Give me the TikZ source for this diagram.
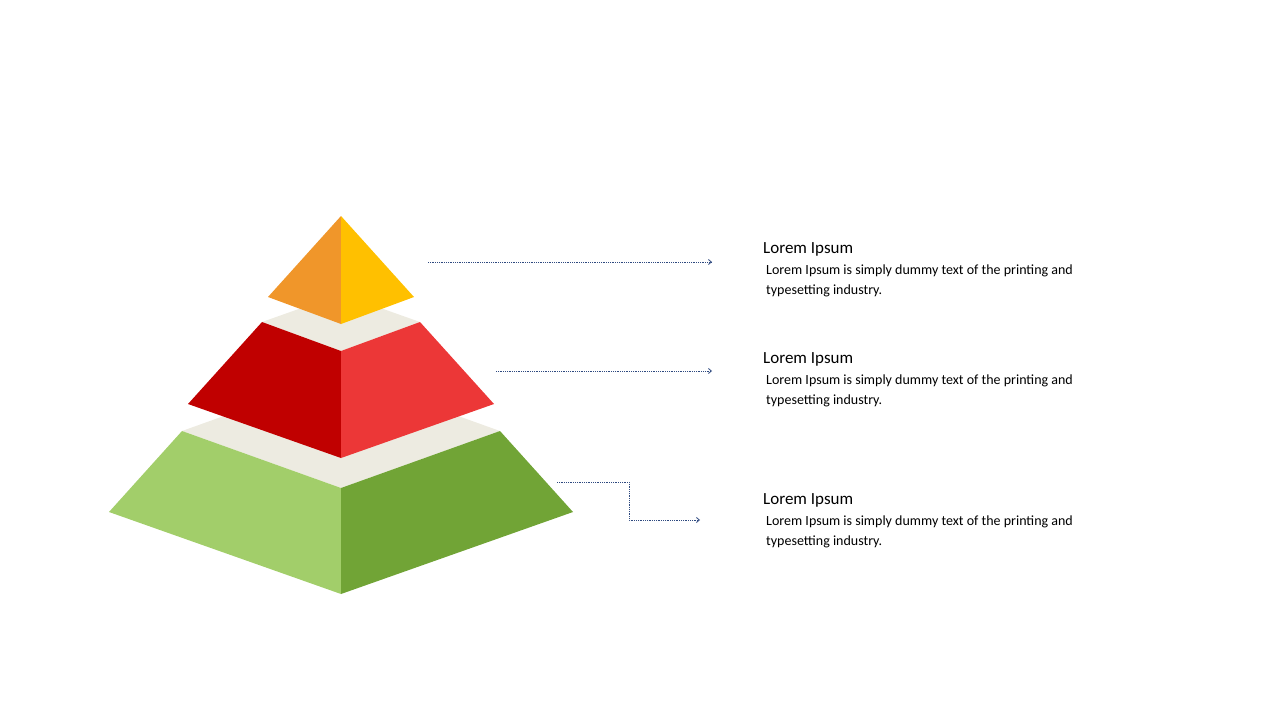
\documentclass[tikz,border=0pt]{standalone}
\usepackage{fontspec}
\setmainfont{Carlito}
\usetikzlibrary{positioning}
\definecolor{greenL}{HTML}{A2CE6A}
\definecolor{greenD}{HTML}{71A436}
\definecolor{redD}{HTML}{C00000}
\definecolor{redL}{HTML}{EC3737}
\definecolor{orangeT}{HTML}{F0962A}
\definecolor{yellowT}{HTML}{FFC000}
\definecolor{band}{HTML}{EDEBE1}
\definecolor{link}{HTML}{2F4A80}
\tikzset{
  head/.style={anchor=base west,inner sep=0pt,font=\fontsize{17}{20}\selectfont},
  body/.style={anchor=north west,inner sep=0pt,align=left,font=\fontsize{14}{19.5}\selectfont},
  link/.style={draw=link,densely dotted,line width=0.8pt,-{Straight Barb[length=3pt,width=5pt]}}
}
\usetikzlibrary{arrows.meta}
\begin{document}
\begin{tikzpicture}[x=1pt,y=-1pt]
    \useasboundingbox (0,0) rectangle (1280,720);
    % bottom layer
    \fill[band] (182,431) -- (341,374) -- (500,431) -- (341,488) -- cycle;
    \fill[greenL] (109,512) -- (182,431) -- (341,488) -- (341,594) -- cycle;
    \fill[greenD] (341,488) -- (500,431) -- (573,512) -- (341,594) -- cycle;
    % middle layer
    \fill[band] (262,322) -- (341,294) -- (420,322) -- (341,351) -- cycle;
    \fill[redD] (188,404) -- (262,322) -- (341,351) -- (341,458) -- cycle;
    \fill[redL] (341,351) -- (420,322) -- (494,404) -- (341,458) -- cycle;
    % top
    \fill[orangeT] (341,216) -- (268,297) -- (341,324) -- cycle;
    \fill[yellowT] (341,216) -- (414,297) -- (341,324) -- cycle;
    % texts
    \node[head] (h1) at (763,253) {Lorem Ipsum};
    \node[body] (b1) at (766,265) {Lorem Ipsum is simply dummy text of the printing and\\typesetting industry.};
    \node[head] (h2) at (763,363) {Lorem Ipsum};
    \node[body] (b2) at (766,375) {Lorem Ipsum is simply dummy text of the printing and\\typesetting industry.};
    \node[head] (h3) at (763,504) {Lorem Ipsum};
    \node[body] (b3) at (766,516) {Lorem Ipsum is simply dummy text of the printing and\\typesetting industry.};
    % connectors
    \coordinate (s1) at (428,262);
    \coordinate (e1) at (712,262);
    \coordinate (s2) at (496,371);
    \coordinate (e2) at (712,371);
    \coordinate (s3) at (557,482);
    \coordinate (e3) at (700,520);
    \draw[link] (s1) -- (e1);
    \draw[link] (s2) -- (e2);
    \draw[link] (s3) -- (629,482) -- (629,520) -- (e3);
\end{tikzpicture}
\end{document}
